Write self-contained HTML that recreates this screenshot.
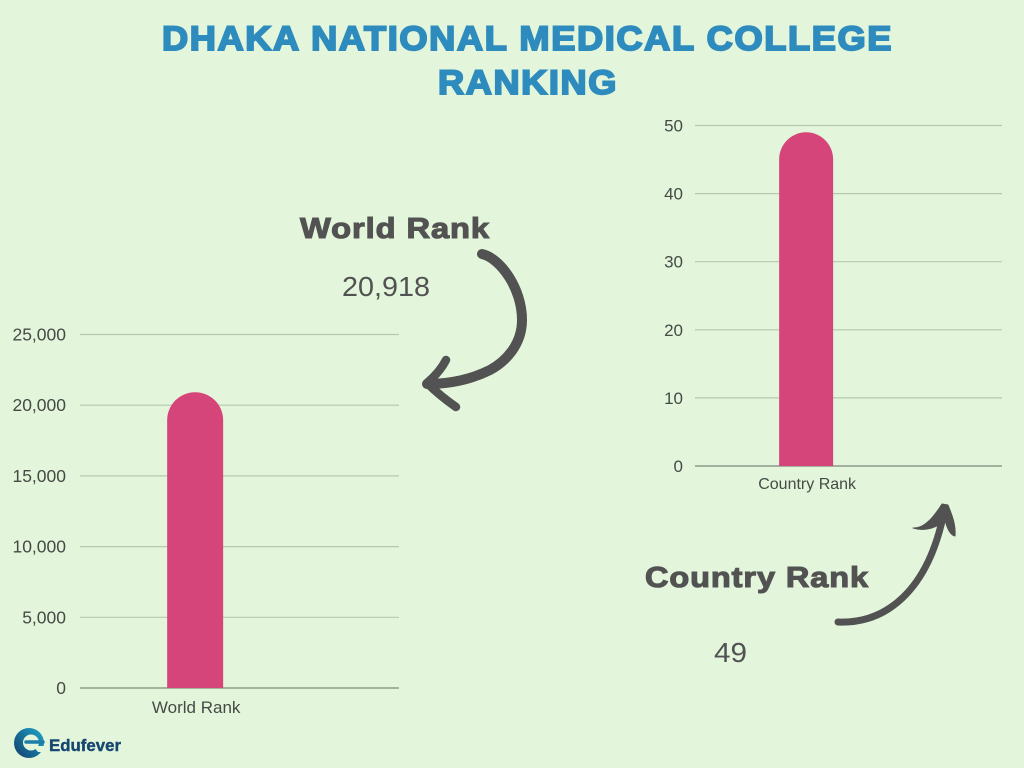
<!DOCTYPE html>
<html lang="en">
<head>
<meta charset="utf-8">
<title>Dhaka National Medical College Ranking</title>
<style>
html,body{margin:0;padding:0;background:#e3f6dc;}
svg{display:block;font-family:"Liberation Sans",sans-serif;}
</style>
</head>
<body>
<svg id="canvas" width="1024" height="768" viewBox="0 0 1024 768" xmlns="http://www.w3.org/2000/svg">
  <defs>
    <linearGradient id="logo-gradient" x1="0.9" y1="0.1" x2="0.1" y2="0.8">
      <stop offset="0" stop-color="#1f9cc2"/>
      <stop offset="1" stop-color="#124c78"/>
    </linearGradient>
  </defs>
  <rect x="0" y="0" width="1024" height="768" fill="#e3f6dc"/>

  <g fill="#2e8bbd" stroke="#2e8bbd" stroke-width="1.9" font-weight="700" font-size="34" letter-spacing="1.5">
    <text x="162" y="50" textLength="731" lengthAdjust="spacingAndGlyphs">DHAKA NATIONAL MEDICAL COLLEGE</text>
    <text x="438" y="94" textLength="180" lengthAdjust="spacingAndGlyphs">RANKING</text>
  </g>

  <g id="world-chart"></g>
  <g id="country-chart"></g>

  <text x="300" y="238" textLength="190" lengthAdjust="spacingAndGlyphs" font-size="29" font-weight="700" fill="#525252" stroke="#525252" stroke-width="1.1" letter-spacing="0.8">World Rank</text>
  <text x="342" y="296" textLength="88" lengthAdjust="spacingAndGlyphs" font-size="28" fill="#525252">20,918</text>
  <text x="645" y="587" textLength="224" lengthAdjust="spacingAndGlyphs" font-size="29" font-weight="700" fill="#525252" stroke="#525252" stroke-width="1.1" letter-spacing="0.8">Country Rank</text>
  <text x="714" y="662" textLength="33" lengthAdjust="spacingAndGlyphs" font-size="28" fill="#525252">49</text>

  <g fill="none" stroke="#525252" stroke-linecap="round" stroke-linejoin="round">
    <path d="M482 254 C500 258 522 288 522 320 C522 345 505 362 490 370 C470 380 450 384 427 384" stroke-width="10"/>
    <path d="M446 360 C441 370 434 377 427 383 C436 392 446 400 456 407" stroke-width="8.500"/>
  </g>
  <g fill="none" stroke="#525252" stroke-linecap="round" stroke-linejoin="round">
    <path d="M838 622 C885 624 928 592 944 512" stroke-width="7"/>
    <path d="M913 528 C925 529 935 515 942 504 L948 505 C952 515 956 525 955 536 C950 535 947 528 945 520 C938 527 926 532 913 528 Z" fill="#525252" stroke-width="1"/>
  </g>

  <g>
    <circle cx="29" cy="743" r="15" fill="url(#logo-gradient)"/>
    <circle cx="31" cy="742.500" r="8" fill="#e3f6dc"/>
    <path d="M26 742 H43" stroke="#1b7fa8" stroke-width="3.500" stroke-linecap="round"/>
    <path d="M33 746 L46 746 L46 752 L38 752 Z" fill="#e3f6dc"/>
    <text x="49" y="751" textLength="72" lengthAdjust="spacingAndGlyphs" font-size="17" font-weight="700" fill="#17466f" stroke="#17466f" stroke-width="0.4">Edufever</text>
  </g>
</svg>

<script>
const worldCategories = ['World Rank'];
const worldValues = [20918];
const worldTicks = [0, 5000, 10000, 15000, 20000, 25000];

const countryCategories = ['Country Rank'];
const countryValues = [49];
const countryTicks = [0, 10, 20, 30, 40, 50];

const SVG_NS = 'http://www.w3.org/2000/svg';
const BAR_COLOR = '#d6457a';
const GRID_COLOR = '#b6c9ae';
const AXIS_COLOR = '#7d8879';
const TEXT_COLOR = '#454a45';

function make(parent, tag, attrs, text) {
  const el = document.createElementNS(SVG_NS, tag);
  Object.keys(attrs).forEach(function (k) { el.setAttribute(k, attrs[k]); });
  if (text !== undefined) el.textContent = text;
  parent.appendChild(el);
  return el;
}

function drawChart(root, categories, values, ticks, frame) {
  const maxTick = ticks[ticks.length - 1];
  const yScale = function (v) { return frame.bottom - (v / maxTick) * (frame.bottom - frame.top); };
  const xScale = function (i) { return frame.left + (frame.right - frame.left) * frame.bandCenter * (i + 1); };

  ticks.forEach(function (t) {
    const y = yScale(t);
    const line = make(root, 'line', {
      x1: frame.left, x2: frame.right, y1: y, y2: y,
      stroke: t === 0 ? AXIS_COLOR : GRID_COLOR,
      'stroke-width': 1.2
    });
    
    
    const label = make(root, 'text', {
      x: frame.left - frame.tickGap, y: y + 6, 'text-anchor': 'end',
      'font-size': frame.tickSize, fill: TEXT_COLOR
    }, t.toLocaleString('en-US'));
    
    
  });

  values.forEach(function (v, i) {
    const cx = xScale(i);
    const hw = frame.barWidth / 2;
    const top = yScale(v);
    const base = yScale(0);
    const r = Math.min(hw, base - top);
    const d = 'M' + (cx - hw) + ' ' + base +
      ' V' + (top + r) +
      ' A' + hw + ' ' + r + ' 0 0 1 ' + (cx + hw) + ' ' + (top + r) +
      ' V' + base + ' Z';
    const bar = make(root, 'path', { d: d, fill: BAR_COLOR });
    
    
    const cat = make(root, 'text', {
      x: cx + 1, y: base + frame.catGap, 'text-anchor': 'middle',
      'font-size': frame.catSize, fill: TEXT_COLOR
    }, categories[i]);
    
    
  });
}

drawChart(document.getElementById('world-chart'), worldCategories, worldValues, worldTicks,
  { left: 80, right: 399, top: 334.5, bottom: 688, bandCenter: 0.361, barWidth: 56, tickGap: 14, tickSize: 17.5, catGap: 25, catSize: 17 });
drawChart(document.getElementById('country-chart'), countryCategories, countryValues, countryTicks,
  { left: 695, right: 1002, top: 125.5, bottom: 466, bandCenter: 0.362, barWidth: 54, tickGap: 12, tickSize: 17, catGap: 23, catSize: 16 });
</script>
</body>
</html>
